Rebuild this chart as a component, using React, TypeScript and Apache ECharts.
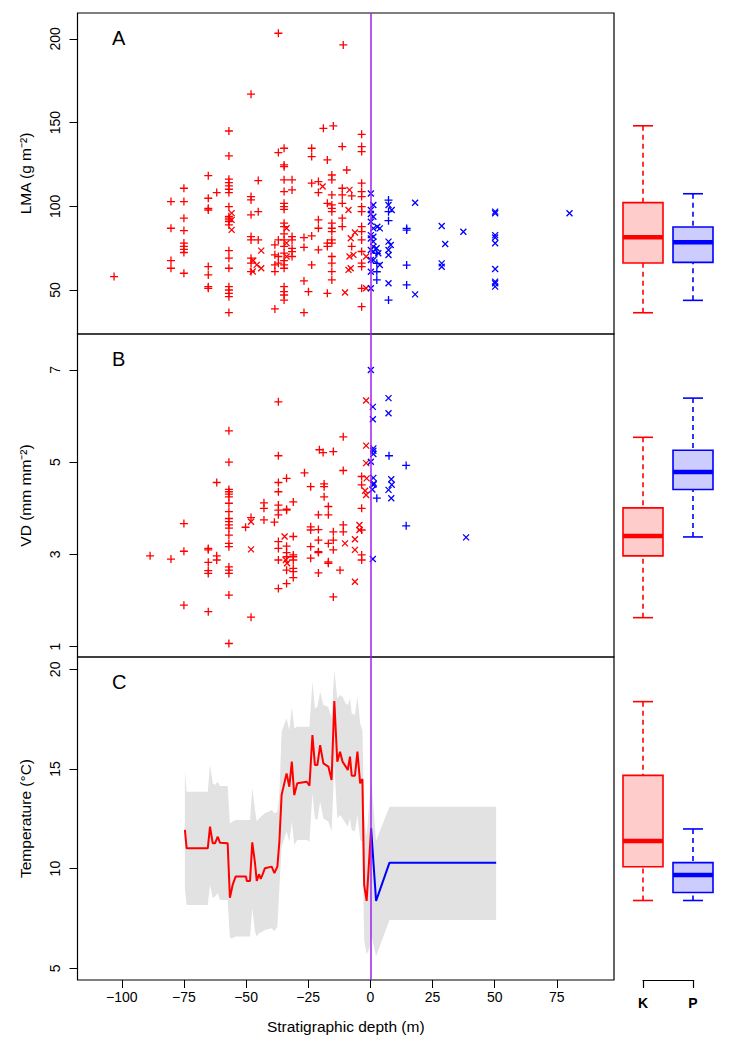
import React, { useEffect, useRef } from "react";
import * as echarts from "echarts";

// ---------- DATA ----------
const depthTicks = [-100, -75, -50, -25, 0, 25, 50, 75];
const lmaTicks = [50, 100, 150, 200];
const vdTicks = [1, 3, 5, 7];
const tempTicks = [5, 10, 15, 20];
const boxCategories = ["K", "P"];

// Panel A: LMA (g m-2) vs stratigraphic depth (m)
const lmaKPlus = [
  [-103.1, 58],
  [-80.2, 102.8], [-80.2, 86.9], [-80.2, 67.6], [-80.2, 63.0],
  [-75, 110.8], [-75, 102.8], [-75, 92.9], [-75, 85.5], [-75, 78], [-75, 76], [-75, 74.3], [-75, 72.4], [-75, 60],
  [-65.2, 118.3], [-65.2, 104.8], [-65.2, 98.8], [-65.2, 97.8], [-65.2, 64], [-65.2, 59], [-65.2, 52], [-65.2, 51],
  [-61.8, 108.2],
  [-56.9, 145], [-56.9, 130.1], [-56.9, 116.2], [-56.9, 114.2], [-56.9, 112.2], [-56.9, 110.2], [-56.9, 108.2], [-56.9, 99.8], [-56.9, 93.9], [-56.9, 92.9], [-56.9, 91.9], [-56.9, 90.9], [-56.9, 88.9], [-56.9, 73.5], [-56.9, 69], [-56.9, 63], [-56.9, 52], [-56.9, 50], [-56.9, 48], [-56.9, 46], [-56.9, 36.5],
  [-48, 167],
  [-48, 105.8], [-48, 103.8], [-48, 94.9], [-48, 81.9], [-48, 79.9], [-48, 69], [-48, 66], [-48, 61],
  [-45.1, 115.4], [-45.1, 96.8], [-45.1, 79.9],
  [-38.4, 77], [-38.4, 71], [-38.4, 65], [-38.4, 61], [-38.4, 38.7],
  [-37, 203.4], [-37, 132.1], [-37, 79.9], [-37, 70], [-37, 66],
  [-34.7, 134.7], [-34.7, 124.7], [-34.7, 123.7], [-34.7, 115.8], [-34.7, 108.8], [-34.7, 101.8], [-34.7, 99.8], [-34.7, 98.2], [-34.7, 89.9], [-34.7, 87.9], [-34.7, 83.5], [-34.7, 79.9], [-34.7, 76], [-34.7, 72], [-34.7, 67.6], [-34.7, 65], [-34.7, 63], [-34.7, 52], [-34.7, 49], [-34.7, 47], [-34.7, 44],
  [-31.5, 115.8], [-31.5, 109.8], [-31.5, 81.9], [-31.5, 79.9], [-31.5, 74.9], [-31.5, 72.9], [-31.5, 70],
  [-26.7, 81.3], [-26.7, 75.5], [-26.7, 55.4], [-26.7, 36.5],
  [-24.9, 49],
  [-23.6, 134.7], [-23.6, 129.7], [-23.6, 113.8], [-23.6, 82.3], [-23.6, 65],
  [-20.9, 114.8], [-20.9, 108.2], [-20.9, 91.9], [-20.9, 86.9], [-20.9, 74],
  [-18.9, 146.6],
  [-17.3, 127.7], [-17.3, 101.8], [-17.3, 78], [-17.3, 76], [-17.3, 48],
  [-15.5, 118.7], [-15.5, 115.8], [-15.5, 106.8], [-15.5, 100.8], [-15.5, 98.8], [-15.5, 96.8], [-15.5, 89.9], [-15.5, 86.9], [-15.5, 84.9], [-15.5, 79.9], [-15.5, 78], [-15.5, 70], [-15.5, 66], [-15.5, 61], [-15.5, 56],
  [-14.9, 148],
  [-11.3, 135.7], [-11.3, 110.8], [-11.3, 106.8], [-11.3, 101.8], [-11.3, 92.9], [-11.3, 87.9],
  [-10.9, 196.4],
  [-9.5, 121.7],
  [-7.5, 106.2], [-7.5, 76],
  [-3.5, 143], [-3.5, 135.7], [-3.5, 132.7], [-3.5, 113.8], [-3.5, 108.8], [-3.5, 105.8], [-3.5, 99.8], [-3.5, 96.8], [-3.5, 87.9], [-3.5, 84.9], [-3.5, 79.9], [-3.5, 73], [-3.5, 66], [-3.5, 64], [-3.5, 51], [-3.5, 40],
];
const lmaKCross = [
  [-55.8, 95.9], [-55.8, 91.9], [-55.8, 85.9],
  [-43.9, 73.5], [-47.1, 67.6], [-45.7, 65], [-47.3, 61], [-43.9, 63],
  [-33.7, 86.9], [-33.7, 78], [-33.7, 70],
  [-19.2, 111.8],
  [-8.4, 109.8], [-8.8, 97.8], [-7.9, 80.9], [-6.2, 84.3], [-8.4, 70], [-6.8, 71], [-8.8, 62], [-7.9, 63], [-10.2, 48.5],
  [-1.7, 70], [-1.7, 51],
];
const lmaPCross = [
  [0.2, 107.7], [0.2, 97.8], [0.2, 95.4], [0.2, 90.8], [0.2, 82.8], [0.2, 80.8], [0.2, 73.9], [0.2, 67.9], [0.2, 60.9], [0.2, 51],
  [1.2, 100.8], [1.2, 93.8], [1.2, 86.8], [1.2, 81.8], [1.2, 78.9], [1.2, 75.9], [1.2, 72.9], [1.2, 67.9],
  [2.8, 87.8], [3.8, 86.8], [2.5, 74.9], [3.2, 71.9], [3.8, 64.9],
  [7.3, 100.8], [8.6, 97.8], [7.3, 78.9], [8.2, 76.9], [7.3, 73.9], [7.3, 70.9], [7.3, 54],
  [18, 102.1], [18, 47.4],
  [28.7, 88.2], [28.7, 65.9], [28.7, 63.9],
  [30.1, 77.5],
  [37.4, 84.8],
  [50.2, 96.8], [50.2, 95.8], [50.2, 82.8], [50.2, 81.4], [50.2, 77.9], [50.2, 62.5], [50.2, 55], [50.2, 54], [50.2, 52],
  [80.1, 95.8],
];
const lmaPPlus = [
  [2.6, 71.9], [2.6, 65.9], [2.6, 60.9], [2.6, 56],
  [7.3, 103.7], [7.3, 96.8], [7.3, 91.4], [7.3, 44],
  [14.6, 86.8], [14.6, 85.8], [14.6, 64.9], [14.6, 53],
];

// Panel B: VD (mm mm-2)
const vdKPlus = [
  [-88.6, 2.97],
  [-80.2, 2.90],
  [-75, 3.67], [-75, 3.07], [-75, 1.90],
  [-65.2, 3.13], [-65.2, 3.10], [-65.2, 2.83], [-65.2, 2.65], [-65.2, 2.59], [-65.2, 1.76],
  [-61.8, 4.56], [-61.8, 2.97], [-61.8, 2.88],
  [-56.9, 5.68], [-56.9, 5.00], [-56.9, 4.41], [-56.9, 4.36], [-56.9, 4.31], [-56.9, 4.25], [-56.9, 4.11], [-56.9, 3.93], [-56.9, 3.78], [-56.9, 3.71], [-56.9, 3.64], [-56.9, 3.57], [-56.9, 3.42], [-56.9, 3.24], [-56.9, 3.17], [-56.9, 2.73], [-56.9, 2.66], [-56.9, 2.59], [-56.9, 2.12], [-56.9, 1.07],
  [-50.2, 3.59],
  [-48, 3.80], [-48, 1.64],
  [-42.8, 4.12], [-42.8, 4.00], [-42.8, 3.75],
  [-38.6, 3.70],
  [-37, 6.31], [-37, 5.14], [-37, 4.56], [-37, 4.36], [-37, 4.07], [-37, 3.96], [-37, 3.86], [-37, 3.28], [-37, 3.13], [-37, 2.88], [-37, 2.26],
  [-33.7, 4.65], [-33.7, 3.98], [-33.7, 3.96], [-33.7, 3.18], [-33.7, 3.04], [-33.7, 2.95], [-33.7, 2.66], [-33.7, 2.37],
  [-31, 4.14], [-31, 3.39], [-31, 2.99], [-31, 2.95], [-31, 2.88], [-31, 2.70], [-31, 2.63], [-31, 2.50],
  [-26.5, 4.77],
  [-24, 4.47], [-24, 3.60], [-24, 3.53], [-24, 3.17], [-24, 2.92],
  [-20.9, 3.86], [-20.9, 3.54], [-20.9, 3.31], [-20.9, 3.06], [-20.9, 3.04], [-20.9, 2.60],
  [-20.5, 5.27], [-19, 5.21],
  [-18.6, 4.53], [-18.6, 4.47], [-18.6, 4.25],
  [-16.9, 4.04], [-16.9, 3.86], [-16.9, 3.24], [-16.9, 2.84], [-16.9, 2.81],
  [-14.9, 5.23], [-14.9, 3.49], [-14.9, 3.31], [-14.9, 3.10], [-14.9, 2.08],
  [-12.2, 2.66],
  [-10.9, 5.55], [-10.9, 4.82], [-10.9, 3.64], [-10.9, 3.49],
  [-3.5, 4.69], [-3.5, 4.51], [-3.5, 4.00], [-3.5, 3.53], [-3.5, 2.99], [-3.5, 2.88],
];
const vdKCross = [
  [-48, 3.71], [-48, 3.11],
  [-34.5, 3.39], [-34, 2.88], [-33.5, 2.81],
  [-10.2, 3.24], [-6.2, 3.33], [-6.2, 3.10], [-4.4, 3.64], [-6.2, 2.41],
  [-1.7, 6.34], [-1.7, 5.36], [-1.7, 4.98], [-1.5, 4.65], [-2.1, 4.38], [-1.7, 4.29], [-4.4, 3.53],
];
const vdPCross = [
  [0.2, 7.00], [1.0, 6.20], [1.0, 5.93], [1.2, 5.30], [1.2, 5.25], [1.2, 5.18], [0.2, 5.01], [1.2, 4.66], [1.4, 4.54], [1.2, 4.51], [0.8, 4.41], [1.0, 2.90],
  [7.3, 6.39], [7.3, 6.06], [8.4, 4.63], [8.6, 4.51], [7.3, 4.40], [8.4, 4.22],
  [38.5, 3.37],
];
const vdPPlus = [[2.6, 4.22], [7.5, 5.14], [14.4, 4.93], [14.4, 3.62]];

// Panel C: Temperature (°C)
const tempKDepth = [-74.6, -73.9, -65.4, -64.5, -63.4, -62.5, -61.4, -60.5, -57.4, -56.5, -55.4, -54.2, -50.0, -49.7, -48.4, -47.5, -46.4, -45.7, -44.8, -44.1, -43.3, -42.4, -39.7, -38.6, -37.4, -36.6, -35.7, -33.7, -32.6, -31.6, -30.6, -29.4, -25.6, -24.5, -23.3, -22.3, -21.3, -20.2, -18.9, -16.9, -15.6, -14.5, -13.3, -12.2, -11.2, -9.9, -9.1, -8.2, -7.5, -6.2, -5.2, -4.1, -3.2, -2.5, -1.5, 0.3];
const tempKValue = [11.94, 11.02, 11.02, 12.11, 11.27, 11.27, 11.60, 11.30, 11.27, 8.54, 9.18, 9.60, 9.60, 9.38, 9.38, 11.32, 10.27, 9.38, 9.72, 9.48, 9.72, 10.02, 10.10, 9.77, 10.10, 11.35, 13.69, 14.78, 14.11, 15.37, 13.69, 14.28, 14.36, 14.16, 16.70, 15.20, 15.20, 16.20, 15.28, 15.12, 14.45, 18.41, 15.37, 15.87, 15.37, 15.12, 14.95, 15.62, 14.66, 14.66, 15.87, 14.28, 14.50, 9.18, 8.38, 12.02];
const tempPDepth = [0.3, 2.3, 7.7, 50.6];
const tempPValue = [12.02, 8.38, 10.30, 10.30];

const bandDepth = [-74.6, -73.9, -65.4, -64.5, -63.4, -62.5, -61.4, -60.5, -57.4, -56.5, -55.4, -54.2, -50.0, -48.4, -47.5, -46.4, -45.7, -44.8, -43.3, -42.4, -39.7, -38.6, -37.4, -36.6, -35.7, -33.7, -32.6, -31.6, -30.6, -29.4, -25.6, -24.5, -23.3, -22.3, -21.3, -20.2, -18.9, -16.9, -15.6, -14.5, -13.3, -12.2, -11.2, -9.9, -9.1, -8.2, -7.5, -6.2, -5.2, -4.1, -3.2, -2.5, -1.5, -0.4, 0.5, 2.3, 7.7, 50.6];
const bandUpper = [14.87, 13.86, 13.86, 15.20, 14.28, 14.20, 14.36, 14.15, 14.15, 12.27, 12.36, 12.44, 12.44, 12.44, 14.03, 12.94, 12.36, 12.52, 12.69, 12.78, 12.94, 12.78, 12.86, 13.70, 16.87, 17.54, 16.95, 18.12, 17.04, 17.12, 17.12, 17.12, 19.38, 18.04, 18.12, 18.88, 18.21, 18.12, 17.54, 19.96, 18.54, 18.71, 18.63, 18.29, 18.21, 18.54, 17.79, 17.71, 18.63, 17.29, 16.95, 12.6, 11.6, 13.4, 14.3, 11.4, 13.11, 13.11];
const bandLower = [9.01, 8.18, 8.18, 9.18, 8.51, 8.60, 8.76, 8.43, 8.43, 6.50, 6.50, 6.59, 6.59, 6.59, 8.01, 6.84, 6.59, 6.76, 6.84, 6.92, 7.01, 6.84, 7.09, 9.01, 11.10, 11.86, 11.35, 12.36, 11.19, 11.44, 11.44, 11.35, 13.78, 12.52, 12.44, 13.36, 12.52, 12.36, 11.86, 15.20, 12.52, 12.69, 12.52, 12.27, 12.11, 12.52, 11.94, 11.86, 12.69, 11.44, 11.35, 6.4, 5.7, 6.0, 6.6, 5.6, 7.42, 7.42];

// Boxplot summaries [min, Q1, median, Q3, max] for K and P
const lmaBoxK = [36.4, 66.1, 81.5, 102.2, 148.1];
const lmaBoxP = [43.8, 66.5, 78.5, 87.6, 107.5];
const vdBoxK = [1.63, 2.97, 3.40, 4.01, 5.54];
const vdBoxP = [3.38, 4.41, 4.79, 5.26, 6.39];
const tempBoxK = [8.40, 10.09, 11.39, 14.68, 18.38];
const tempBoxP = [8.40, 8.80, 9.68, 10.30, 11.99];

// ---------- STYLE ----------
const FONT = '"Liberation Sans", Arial, Helvetica, sans-serif';
const RED = "#FF0000";
const BLUE = "#0000FF";
const PURPLE = "#A020F0";
const X_MIN = -117.8;
const X_MAX = 98;
const PLUS = "path://M0,5L10,5M5,0L5,10";
const CROSS = "path://M0,0L10,10M0,10L10,0";

const LEFT = 77.5;
const PLOT_W = 536.5;
const BOX_LEFT = 618;
const BOX_W = 100;
const panels = [
  { top: 13, height: 321 },
  { top: 334, height: 323 },
  { top: 657, height: 323 },
];
const yRanges = [
  [23.7, 215.5],
  [0.777, 7.78],
  [4.41, 20.62],
];
const yTicks = [lmaTicks, vdTicks, tempTicks];
const yNames = ["LMA (g m\u207B\u00B2)", "VD (mm mm\u207B\u00B2)", "Temperature (\u00B0C)"];

const fmtMinus = (v: number) => (v < 0 ? "\u2212" + Math.abs(v) : String(v));

function scatter(data: number[][], idx: number, symbol: string, color: string, size: number, extra: any = {}) {
  return {
    type: "scatter",
    xAxisIndex: idx,
    yAxisIndex: idx,
    data,
    symbol,
    symbolSize: size,
    itemStyle: { color, borderColor: color, borderWidth: 1.3, opacity: 1 },
    silent: true,
    z: 3,
    ...extra,
  };
}

const purpleLine = {
  silent: true,
  symbol: "none",
  label: { show: false },
  lineStyle: { color: PURPLE, width: 1.5, type: "solid" },
  data: [{ xAxis: 0 }],
};

function boxRender(params: any, api: any) {
  const c = api.value(0);
  const col = c === 0 ? RED : BLUE;
  const fill = c === 0 ? "rgba(255,0,0,0.2)" : "rgba(0,0,255,0.2)";
  const pMin = api.coord([c, api.value(1)]);
  const cx = pMin[0];
  const yMin = pMin[1];
  const yQ1 = api.coord([c, api.value(2)])[1];
  const yMed = api.coord([c, api.value(3)])[1];
  const yQ3 = api.coord([c, api.value(4)])[1];
  const yMax = api.coord([c, api.value(5)])[1];
  const hw = 20;
  const cap = 10;
  const dashed = { stroke: col, lineWidth: 1.6, lineDash: [5, 4], fill: null };
  const solid = { stroke: col, lineWidth: 1.6, fill: null };
  return {
    type: "group",
    children: [
      { type: "line", shape: { x1: cx, y1: yMax, x2: cx, y2: yQ3 }, style: dashed },
      { type: "line", shape: { x1: cx, y1: yMin, x2: cx, y2: yQ1 }, style: dashed },
      { type: "line", shape: { x1: cx - cap, y1: yMax, x2: cx + cap, y2: yMax }, style: solid },
      { type: "line", shape: { x1: cx - cap, y1: yMin, x2: cx + cap, y2: yMin }, style: solid },
      { type: "rect", shape: { x: cx - hw, y: yQ3, width: 2 * hw, height: yQ1 - yQ3 }, style: { fill, stroke: col, lineWidth: 1.6 } },
      { type: "line", shape: { x1: cx - hw, y1: yMed, x2: cx + hw, y2: yMed }, style: { stroke: col, lineWidth: 4.5 } },
    ],
  };
}

function bandRender(params: any, api: any) {
  if (params.dataIndex !== 0) return null;
  const pts: number[][] = [];
  for (let i = 0; i < bandDepth.length; i++) pts.push(api.coord([bandDepth[i], bandUpper[i]]));
  for (let i = bandDepth.length - 1; i >= 0; i--) pts.push(api.coord([bandDepth[i], bandLower[i]]));
  return { type: "polygon", shape: { points: pts }, style: { fill: "#E2E2E2", stroke: null } };
}

function buildOption() {
  const grid: any[] = [];
  const xAxis: any[] = [];
  const yAxis: any[] = [];
  panels.forEach((p) => {
    grid.push({ left: LEFT, top: p.top, width: PLOT_W, height: p.height, show: true, borderColor: "#000", borderWidth: 1.2, backgroundColor: "transparent" });
  });
  panels.forEach((p) => {
    grid.push({ left: BOX_LEFT, top: p.top, width: BOX_W, height: p.height, show: false });
  });
  grid.push({ left: 643, top: 979, width: 50, height: 1, show: false });

  panels.forEach((p, i) => {
    const isBottom = i === 2;
    xAxis.push({
      type: "value",
      gridIndex: i,
      min: X_MIN,
      max: X_MAX,
      axisLine: { show: false, onZero: false },
      splitLine: { show: false },
      axisTick: isBottom ? { show: true, customValues: depthTicks, length: 8, lineStyle: { color: "#000", width: 1 } } : { show: false },
      axisLabel: isBottom
        ? { show: true, customValues: depthTicks, formatter: fmtMinus, fontSize: 14, color: "#000", fontFamily: FONT, margin: 10 }
        : { show: false },
      name: isBottom ? "Stratigraphic depth (m)" : "",
      nameLocation: "middle",
      nameGap: 38,
      nameTextStyle: { fontSize: 15.5, color: "#000", fontFamily: FONT },
    });
    yAxis.push({
      type: "value",
      gridIndex: i,
      min: yRanges[i][0],
      max: yRanges[i][1],
      axisLine: { show: false, onZero: false },
      splitLine: { show: false },
      axisTick: { show: true, customValues: yTicks[i], length: 8, lineStyle: { color: "#000", width: 1 } },
      axisLabel: { show: true, customValues: yTicks[i], rotate: 90, fontSize: 14, color: "#000", fontFamily: FONT, margin: 16 },
      name: yNames[i],
      nameLocation: "middle",
      nameRotate: 90,
      nameGap: 44,
      nameTextStyle: { fontSize: 15.5, color: "#000", fontFamily: FONT },
    });
  });
  panels.forEach((p, i) => {
    xAxis.push({ type: "category", gridIndex: 3 + i, data: boxCategories, show: false });
    yAxis.push({ type: "value", gridIndex: 3 + i, min: yRanges[i][0], max: yRanges[i][1], show: false, splitLine: { show: false } });
  });
  xAxis.push({
    type: "value",
    gridIndex: 6,
    min: 1,
    max: 2,
    interval: 1,
    axisLine: { show: true, onZero: false, lineStyle: { color: "#000", width: 1.2 } },
    axisTick: { show: true, length: 8, lineStyle: { color: "#000", width: 1.2 } },
    splitLine: { show: false },
    axisLabel: { formatter: (v: number) => boxCategories[v - 1] || "", fontSize: 14, fontWeight: "bold", color: "#000", fontFamily: FONT, margin: 16 },
  });
  yAxis.push({ type: "value", gridIndex: 6, min: 0, max: 1, show: false, splitLine: { show: false } });

  const boxSeries = [
    [lmaBoxK, lmaBoxP],
    [vdBoxK, vdBoxP],
    [tempBoxK, tempBoxP],
  ].map((pair, i) => ({
    type: "custom",
    xAxisIndex: 3 + i,
    yAxisIndex: 3 + i,
    silent: true,
    data: pair.map((s, k) => [k, ...s]),
    encode: { x: 0, y: [1, 2, 3, 4, 5] },
    renderItem: boxRender,
  }));

  const series: any[] = [
    scatter(lmaKPlus, 0, PLUS, RED, 8, { markLine: purpleLine }),
    scatter(lmaKCross, 0, CROSS, RED, 6),
    scatter(lmaPCross, 0, CROSS, BLUE, 6),
    scatter(lmaPPlus, 0, PLUS, BLUE, 8),
    scatter(vdKPlus, 1, PLUS, RED, 8, { markLine: purpleLine }),
    scatter(vdKCross, 1, CROSS, RED, 6),
    scatter(vdPCross, 1, CROSS, BLUE, 6),
    scatter(vdPPlus, 1, PLUS, BLUE, 8),
    {
      type: "custom",
      xAxisIndex: 2,
      yAxisIndex: 2,
      silent: true,
      clip: true,
      z: 1,
      data: bandDepth.map((d, i) => [d, bandLower[i], bandUpper[i]]),
      encode: { x: 0, y: [1, 2] },
      renderItem: bandRender,
    },
    {
      type: "line",
      xAxisIndex: 2,
      yAxisIndex: 2,
      data: tempKDepth.map((d, i) => [d, tempKValue[i]]),
      showSymbol: false,
      symbol: "none",
      silent: true,
      z: 3,
      lineStyle: { color: RED, width: 2 },
      markLine: purpleLine,
    },
    {
      type: "line",
      xAxisIndex: 2,
      yAxisIndex: 2,
      data: tempPDepth.map((d, i) => [d, tempPValue[i]]),
      showSymbol: false,
      symbol: "none",
      silent: true,
      z: 3,
      lineStyle: { color: BLUE, width: 2 },
    },
    ...boxSeries,
  ];

  const letters = ["A", "B", "C"].map((t, i) => ({
    type: "text",
    left: 112,
    top: panels[i].top + 15,
    style: { text: t, fontSize: 20, fontFamily: FONT, fill: "#000" },
  }));

  return {
    animation: false,
    backgroundColor: "#fff",
    textStyle: { fontFamily: FONT },
    grid,
    xAxis,
    yAxis,
    series,
    graphic: letters,
  };
}

export default function App() {
  const ref = useRef<HTMLDivElement>(null);
  useEffect(() => {
    if (!ref.current) return;
    const chart = echarts.init(ref.current, null, { renderer: "svg" });
    chart.setOption(buildOption() as any);
    return () => chart.dispose();
  }, []);
  return (
    <div
      ref={ref}
      style={{ position: "absolute", left: 0, top: 0, width: 735, height: 1044, background: "#fff" }}
    />
  );
}
